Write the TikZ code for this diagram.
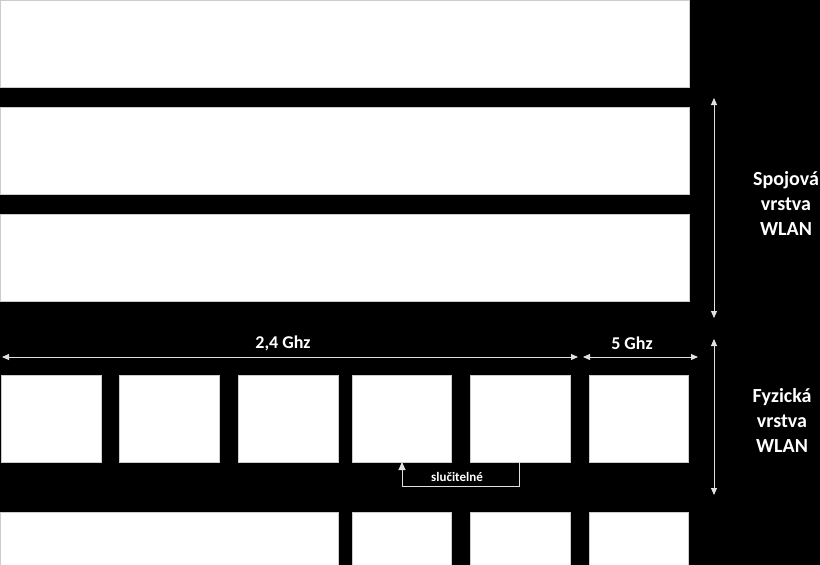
\documentclass[tikz,border=0pt]{standalone}
\usepackage{fontspec}
\setmainfont{Carlito}
\usetikzlibrary{arrows.meta}
\begin{document}
\begin{tikzpicture}[x=1pt,y=-1pt,
  blk/.style={fill=white,draw=white!80!black,line width=0.6pt},
  dim/.style={draw=white!88!black,line width=0.9pt,{Triangle[width=6pt,length=7pt]}-{Triangle[width=6pt,length=7pt]}},
  conn/.style={draw=white!88!black,line width=0.9pt},
  lbl/.style={text=white,font=\bfseries\fontsize{18}{20}\selectfont},
  side/.style={text=white,font=\bfseries\fontsize{20}{25}\selectfont,align=center}]
\fill[black] (0,0) rectangle (820,565);
\useasboundingbox (0,0) rectangle (820,565);
% top bars
\path[blk] (0.5,0.5) rectangle (689,87);
\path[blk] (0.5,107) rectangle (689,194);
\path[blk] (0.5,214) rectangle (689,301);
% middle boxes
\foreach \a/\b/\n in {1/101/m1,119/219/m2,238/338/m3,352/451/m4,470/570/m5,589/688/m6}{
  \path[blk] (\a,375) rectangle (\b,462);
  \coordinate (\n) at ({(\a+\b)/2},462);
}
% bottom boxes
\path[blk] (0.5,512) rectangle (338,570);
\path[blk] (352,512) rectangle (451,570);
\path[blk] (470,512) rectangle (570,570);
\path[blk] (589,512) rectangle (688,570);
% frequency arrows
\coordinate (f1) at (2,357);
\coordinate (f2) at (578,357);
\coordinate (f3) at (583,357);
\coordinate (f4) at (698,357);
\draw[dim] (f1) -- (f2);
\draw[dim] (f3) -- (f4);
\node[lbl] (g24) at (283,343) {2,4 Ghz};
\node[lbl] (g5) at (632,343) {5 Ghz};
% compatibility connector
\coordinate (c1) at (402,462);
\coordinate (c2) at (402,486);
\coordinate (c3) at (519,486);
\coordinate (c4) at (519,462);
\draw[conn,-{Triangle[width=7pt,length=8pt]}] (c4) -- (c3) -- (c2) -- (c1);
\node[lbl,font=\bfseries\fontsize{13}{15}\selectfont] (sl) at (457,477) {slučitelné};
% side arrows
\coordinate (s1) at (714,98);
\coordinate (s2) at (714,318);
\coordinate (p1) at (714,339);
\coordinate (p2) at (714,495);
\draw[dim] (s1) -- (s2);
\draw[dim] (p1) -- (p2);
\node[side] (spoj) at (786,203) {Spojová\\vrstva\\WLAN};
\node[side] (fyz) at (782,420) {Fyzická\\vrstva\\WLAN};
\end{tikzpicture}
\end{document}
